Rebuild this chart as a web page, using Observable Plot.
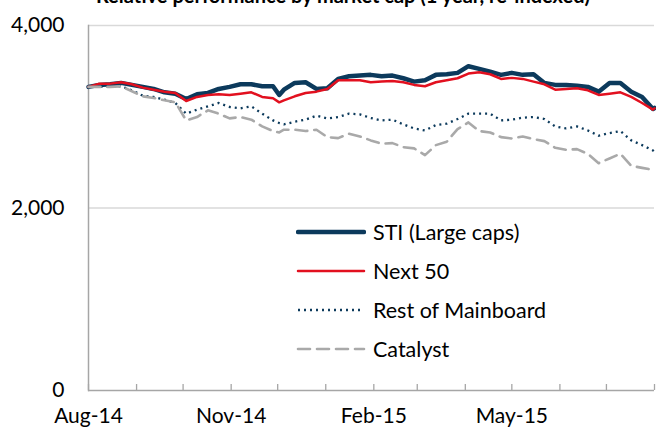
<!DOCTYPE html>
<html><head><meta charset="utf-8">
<script src="https://cdn.jsdelivr.net/npm/d3@7"></script>
<script src="https://cdn.jsdelivr.net/npm/@observablehq/plot@0.6"></script>
<style>
body{margin:0;background:#fff;font-family:Lato,"Open Sans",sans-serif;}
#wrap{position:relative;width:656px;height:430px;overflow:hidden;background:#fff;}
#title{position:absolute;left:0;width:686px;text-align:center;top:-16px;font-weight:bold;font-size:20px;line-height:22px;color:#000;white-space:nowrap;z-index:2}
#legend{position:absolute;left:296px;top:212px;z-index:2}
.row{display:flex;align-items:center;height:39px;}
.row svg{width:70px;height:10px;margin-right:7px;}
.row span{font-size:21.5px;color:#000;}
</style>
</head><body>
<div id="wrap">
  <div id="title"></div>
  <div id="chart"></div>
  <div id="legend"></div>
</div>
<script>
const titleText = "Relative performance by market cap (1 year, re-indexed)";

const dates = ["2014-08-14","2014-08-21","2014-08-28","2014-09-04","2014-09-11","2014-09-18","2014-09-25","2014-10-02","2014-10-09","2014-10-16","2014-10-23","2014-10-30","2014-11-06","2014-11-13","2014-11-20","2014-11-27","2014-12-04","2014-12-11","2014-12-15","2014-12-18","2014-12-25","2015-01-01","2015-01-08","2015-01-15","2015-01-22","2015-01-29","2015-02-05","2015-02-12","2015-02-19","2015-02-26","2015-03-05","2015-03-12","2015-03-19","2015-03-26","2015-04-02","2015-04-09","2015-04-16","2015-04-23","2015-04-30","2015-05-07","2015-05-14","2015-05-21","2015-05-28","2015-06-04","2015-06-11","2015-06-18","2015-06-25","2015-07-02","2015-07-09","2015-07-16","2015-07-23","2015-07-30","2015-08-06","2015-08-13","2015-08-14"];

const sti = [3327,3349,3356,3371,3349,3327,3305,3268,3253,3195,3246,3261,3305,3327,3356,3356,3334,3334,3239,3297,3371,3378,3305,3312,3415,3444,3451,3459,3444,3451,3422,3385,3400,3459,3466,3481,3554,3524,3495,3459,3481,3459,3466,3371,3349,3349,3341,3327,3275,3371,3371,3275,3217,3085,3096];
const next50 = [3327,3363,3363,3378,3356,3319,3297,3275,3261,3173,3217,3239,3246,3239,3253,3268,3217,3202,3158,3180,3224,3261,3275,3305,3400,3400,3400,3378,3385,3393,3378,3349,3334,3378,3400,3422,3473,3488,3466,3415,3426,3415,3385,3356,3297,3305,3312,3290,3239,3253,3268,3217,3151,3078,3092];
const restOfMainboard = [3327,3327,3334,3334,3290,3231,3217,3187,3151,3034,3078,3114,3151,3107,3092,3114,3034,2960,2931,2916,2946,2968,3012,2982,2997,3034,3026,2986,2960,2968,2916,2872,2850,2909,2924,2975,3034,3034,3034,2960,2968,2990,2997,2975,2894,2872,2894,2850,2792,2821,2843,2741,2689,2631,2616];
const catalyst = [3327,3327,3327,3334,3279,3224,3206,3180,3158,2960,2997,3070,3034,2982,2997,2968,2894,2843,2828,2858,2858,2843,2858,2777,2766,2814,2784,2741,2704,2711,2667,2653,2579,2689,2726,2865,2938,2843,2828,2777,2762,2784,2755,2733,2660,2638,2645,2594,2491,2543,2594,2462,2440,2418,2418];

const seriesNames = ["STI (Large caps)","Next 50","Rest of Mainboard","Catalyst"];
const seriesValues = [sti, next50, restOfMainboard, catalyst];
const seriesColors = ["#0c3a5c","#e2101f","#0c3a5c","#a9a9a9"];
const seriesWidths = [4.5, 2.5, 2.3, 2.6];
const seriesDash = [null, null, "2,4", "12,7"];

const yTicks = [0, 2000, 4000];
const xTickDates = ["2014-08-14","2014-09-14","2014-10-14","2014-11-14","2014-12-14","2015-01-14","2015-02-14","2015-03-14","2015-04-14","2015-05-14","2015-06-14","2015-07-14","2015-08-14"];
const xTickLabels = ["Aug-14","","","Nov-14","","","Feb-15","","","May-15","","",""];

const parse = d3.utcParse("%Y-%m-%d");
const xTicks = xTickDates.map(parse);
const labelMap = new Map(xTicks.map((d,i)=>[+d, xTickLabels[i]]));
const labelTicks = xTicks.filter((d,i)=>xTickLabels[i] !== "");

document.getElementById("title").textContent = titleText;

const lineMarks = seriesNames.map((name, i) => {
  const data = dates.map((d, j) => ({date: parse(d), value: seriesValues[i][j], series: name}));
  return Plot.line(data, {
    x: "date", y: "value",
    stroke: seriesColors[i], strokeWidth: seriesWidths[i],
    strokeDasharray: seriesDash[i] || undefined,
    strokeLinejoin: "round", strokeLinecap: i === 2 ? "butt" : "round",
    curve: "linear"
  });
});

const chart = Plot.plot({
  width: 656, height: 430,
  marginLeft: 88, marginRight: 2, marginTop: 25, marginBottom: 40,
  style: {fontFamily: "Lato, 'Open Sans', sans-serif", fontSize: "21px", color: "#000", background: "#fff"},
  x: {type: "utc", domain: [xTicks[0], xTicks[xTicks.length - 1]], label: null},
  y: {domain: [0, 4000], label: null},
  marks: [
    Plot.gridY(yTicks.slice(1), {stroke: "#d9d9d9", strokeOpacity: 1, strokeWidth: 1.5}),
    Plot.ruleY([0], {stroke: "#a6a6a6", strokeWidth: 1.5}),
    Plot.frame({anchor: "left", stroke: "#a6a6a6", strokeWidth: 1.5}),
    Plot.axisY({ticks: yTicks, tickSize: 0, tickPadding: 24, tickFormat: d3.format(","), fill: "#000", fontSize: 21, label: null}),
    Plot.axisX({ticks: xTicks, tickSize: -6, tickFormat: () => "", stroke: "#a6a6a6", strokeWidth: 1.3, label: null}),
    Plot.axisX({ticks: labelTicks, tickSize: 0, tickPadding: 18, tickFormat: d => labelMap.get(+d), fill: "#000", fontSize: 21, label: null}),
    ...lineMarks
  ]
});
document.getElementById("chart").appendChild(chart);

const legend = document.getElementById("legend");
seriesNames.forEach((name, i) => {
  const row = document.createElement("div");
  row.className = "row";
  const dash = seriesDash[i] ? `stroke-dasharray="${seriesDash[i]}"` : "";
  row.innerHTML = `<svg viewBox="0 0 70 10"><line x1="2" x2="68" y1="5" y2="5" stroke="${seriesColors[i]}" stroke-width="${seriesWidths[i]}" ${dash} stroke-linecap="${i===2?'butt':'round'}"/></svg><span>${name}</span>`;
  legend.appendChild(row);
});
</script>
</body></html>
